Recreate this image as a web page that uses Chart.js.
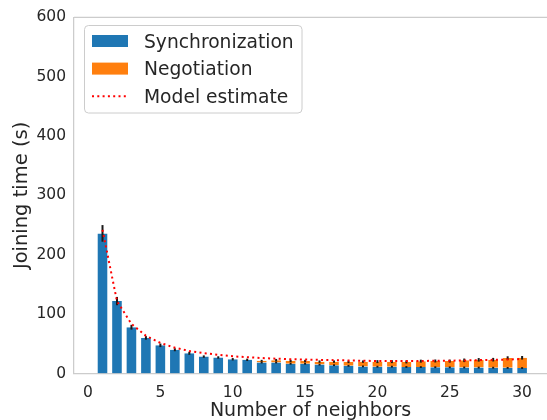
<!DOCTYPE html>
<html>
<head>
<meta charset="utf-8">
<script src="https://cdn.jsdelivr.net/npm/chart.js@4.4.1/dist/chart.umd.min.js"></script>
<style>
  html, body { margin: 0; padding: 0; background: #fff; overflow: hidden; }
</style>
</head>
<body>
<canvas id="joinChart" width="547" height="420"></canvas>
<script>
const neighbors = [1, 2, 3, 4, 5, 6, 7, 8, 9, 10, 11, 12, 13, 14, 15, 16, 17, 18, 19, 20, 21, 22, 23, 24, 25, 26, 27, 28, 29, 30];
const syncTime = [236, 122, 78, 60, 47.5, 40, 34, 28.5, 27, 24, 23, 18.5, 18.5, 16.5, 16.5, 15, 14, 13, 12, 11.5, 11.5, 11, 10.8, 10.6, 10.4, 10.2, 10, 9.8, 9.5, 9.2];
const syncErr = [14, 7, 4, 3, 3, 2.5, 2.5, 2, 2, 2, 2, 1.5, 1.5, 1.5, 1.5, 1.5, 1.5, 1.5, 1.5, 1.5, 1.5, 1.5, 1.5, 1.5, 1.5, 1.5, 1.5, 1.5, 1.5, 1.5];
const negoTime = [0, 0, 0, 0, 0, 0, 0, 0, 0, 0, 0.5, 3, 4, 4.5, 4.5, 5, 6, 6.5, 8, 8.5, 8.5, 8.5, 10, 10.5, 10.5, 12, 13, 13.5, 16.5, 17.3];
const negoErr = [0, 0, 0, 0, 0, 0, 0, 0, 0, 0, 0, 1.5, 2, 2, 2, 2, 2, 2, 2, 2.5, 2.5, 2.5, 2.5, 2.5, 2.5, 3, 3, 3, 3, 3];
const modelEstimate = [242, 122, 83.5, 63.5, 51.5, 43.5, 38, 34.3, 31.5, 29, 27.5, 26, 25, 24, 23.5, 23, 22.5, 22, 21.5, 21, 21, 21, 21, 21.5, 21.5, 22, 22.5, 23, 23.5, 24.5];
const xTicks = [0, 5, 10, 15, 20, 25, 30];

const FONT = 'DejaVu Sans';
const TEXT = '#262626';
const SPINE = '#cccccc';

// error bars go under the model line, over the bars
const errorBars = {
    id: 'errorBars',
    beforeDatasetDraw(chart, args) {
        if (args.meta.type !== 'line') return;
        const {ctx, scales: {x, y}} = chart;
        ctx.save();
        ctx.strokeStyle = '#1a1a1a';
        ctx.lineWidth = 2;
        neighbors.forEach((n, i) => {
            const px = x.getPixelForValue(n);
            const sync = syncTime[i];
            ctx.beginPath();
            ctx.moveTo(px, y.getPixelForValue(sync - syncErr[i]));
            ctx.lineTo(px, y.getPixelForValue(sync + syncErr[i]));
            ctx.stroke();
            if (negoErr[i] > 0) {
                const total = sync + negoTime[i];
                ctx.beginPath();
                ctx.moveTo(px, y.getPixelForValue(total - negoErr[i]));
                ctx.lineTo(px, y.getPixelForValue(total + negoErr[i]));
                ctx.stroke();
            }
        });
        ctx.restore();
    }
};

const topSpine = {
    id: 'topSpine',
    beforeDatasetsDraw(chart) {
        const {ctx, chartArea} = chart;
        ctx.save();
        ctx.strokeStyle = SPINE;
        ctx.lineWidth = 1.25;
        ctx.beginPath();
        ctx.moveTo(chartArea.left, chartArea.top);
        ctx.lineTo(chartArea.right, chartArea.top);
        ctx.stroke();
        ctx.restore();
    }
};

function roundRect(ctx, x, y, w, h, r) {
    ctx.beginPath();
    ctx.moveTo(x + r, y);
    ctx.lineTo(x + w - r, y);
    ctx.quadraticCurveTo(x + w, y, x + w, y + r);
    ctx.lineTo(x + w, y + h - r);
    ctx.quadraticCurveTo(x + w, y + h, x + w - r, y + h);
    ctx.lineTo(x + r, y + h);
    ctx.quadraticCurveTo(x, y + h, x, y + h - r);
    ctx.lineTo(x, y + r);
    ctx.quadraticCurveTo(x, y, x + r, y);
    ctx.closePath();
}

const boxLegend = {
    id: 'boxLegend',
    afterDraw(chart) {
        const {ctx} = chart;
        const datasets = chart.data.datasets;
        ctx.save();
        roundRect(ctx, 84.5, 25.5, 217.5, 87.5, 4);
        ctx.fillStyle = 'rgba(255,255,255,0.8)';
        ctx.fill();
        ctx.strokeStyle = SPINE;
        ctx.lineWidth = 1;
        ctx.stroke();

        ctx.font = '18.7px "' + FONT + '"';
        ctx.textBaseline = 'alphabetic';
        datasets.forEach((ds, i) => {
            const cy = 41 + i * 27.6;
            if (ds.type === 'line') {
                ctx.strokeStyle = ds.borderColor;
                ctx.lineWidth = ds.borderWidth;
                ctx.setLineDash(ds.borderDash);
                ctx.beginPath();
                ctx.moveTo(92, cy);
                ctx.lineTo(128, cy);
                ctx.stroke();
                ctx.setLineDash([]);
            } else {
                ctx.fillStyle = ds.backgroundColor;
                ctx.fillRect(92, cy - 6, 36, 12);
            }
            ctx.fillStyle = TEXT;
            ctx.fillText(ds.label, 144, cy + 6.7);
        });
        ctx.restore();
    }
};

const barEdges = {left: 1, right: 1, top: 0, bottom: 0};

new Chart(document.getElementById('joinChart'), {
    type: 'bar',
    data: {
        datasets: [
            {
                label: 'Synchronization',
                data: neighbors.map((n, i) => ({x: n, y: syncTime[i]})),
                backgroundColor: '#1f77b4',
                borderColor: 'rgba(255,255,255,0.4)',
                borderWidth: barEdges,
                borderSkipped: false,
                barPercentage: 0.8,
                categoryPercentage: 1
            },
            {
                label: 'Negotiation',
                data: neighbors.map((n, i) => ({x: n, y: negoTime[i]})),
                backgroundColor: '#ff7f0e',
                borderColor: 'rgba(255,255,255,0.4)',
                borderWidth: barEdges,
                borderSkipped: false,
                barPercentage: 0.8,
                categoryPercentage: 1
            },
            {
                type: 'line',
                label: 'Model estimate',
                data: neighbors.map((n, i) => ({x: n, y: modelEstimate[i]})),
                borderColor: '#ff0000',
                borderWidth: 2,
                borderDash: [2, 3.3],
                pointRadius: 0,
                tension: 0,
                fill: false,
                stack: 'model',
                order: -1
            }
        ]
    },
    options: {
        responsive: false,
        animation: false,
        devicePixelRatio: 1,
        layout: {padding: {top: 16.5, left: 0, right: 0, bottom: 0}},
        plugins: {
            legend: {display: false},
            tooltip: {enabled: false}
        },
        scales: {
            x: {
                type: 'linear',
                stacked: true,
                offset: false,
                min: -0.97,
                max: 31.72,
                afterBuildTicks: (scale) => {
                    scale.ticks = xTicks.map(v => ({value: v}));
                },
                afterFit: (scale) => {
                    scale.height = 46.5;
                },
                grid: {display: false, drawTicks: false, offset: false},
                border: {display: true, color: SPINE, width: 1.25},
                ticks: {
                    color: TEXT,
                    font: {family: FONT, size: 15.5},
                    padding: 10,
                    maxRotation: 0
                },
                title: {
                    display: true,
                    text: 'Number of neighbors',
                    color: TEXT,
                    font: {family: FONT, size: 19, lineHeight: 1},
                    padding: {top: 0, bottom: -0.5}
                }
            },
            y: {
                stacked: true,
                min: 0,
                max: 600,
                afterFit: (scale) => {
                    scale.width = 74;
                },
                grid: {display: false, drawTicks: false},
                border: {display: true, color: SPINE, width: 1.25},
                ticks: {
                    stepSize: 100,
                    color: TEXT,
                    font: {family: FONT, size: 15.5},
                    padding: 8
                },
                title: {
                    display: true,
                    text: 'Joining time (s)',
                    color: TEXT,
                    font: {family: FONT, size: 19.5, lineHeight: 1},
                    padding: {top: 12, bottom: 0}
                }
            }
        }
    },
    plugins: [errorBars, topSpine, boxLegend]
});
</script>
</body>
</html>
